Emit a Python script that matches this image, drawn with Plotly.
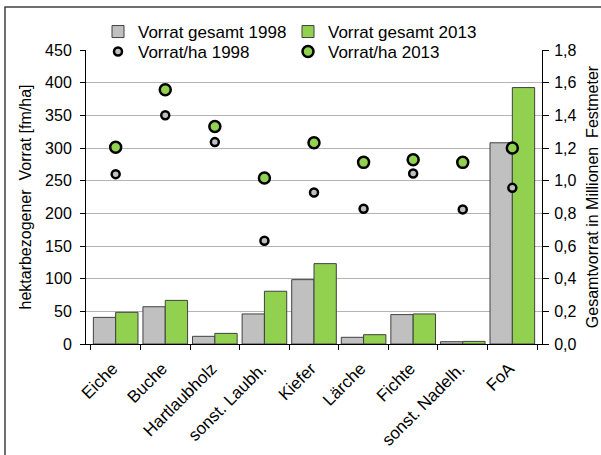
import plotly.graph_objects as go

# Baumarten / Kategorien
categories = ["Eiche", "Buche", "Hartlaubholz", "sonst. Laubh.", "Kiefer",
              "Lärche", "Fichte", "sonst. Nadelh.", "FoA"]

# Gesamtvorrat in Millionen Festmeter
vorrat_gesamt_1998 = [0.163, 0.228, 0.047, 0.184, 0.394, 0.041, 0.180, 0.014, 1.232]
vorrat_gesamt_2013 = [0.194, 0.267, 0.065, 0.323, 0.492, 0.057, 0.184, 0.016, 1.570]

# Hektarbezogener Vorrat [fm/ha]
vorrat_ha_1998 = [260, 350, 309, 158, 232, 207, 261, 206, 239]
vorrat_ha_2013 = [301, 389, 333, 254, 308, 278, 282, 278, 300]

left_ticks = [0, 50, 100, 150, 200, 250, 300, 350, 400, 450]
right_ticks = [0.0, 0.2, 0.4, 0.6, 0.8, 1.0, 1.2, 1.4, 1.6, 1.8]

GRAY = "#c0c0c0"
GREEN = "#92d050"
FONT = "Liberation Sans, Arial, sans-serif"

# plot area in pixels
W, H = 601, 455
L, R, T, B = 86, 542, 50, 344


def px_x(px):
    return (px - L) / (R - L)


def px_y(py):
    return (B - py) / (B - T)


fig = go.Figure()

fig.add_trace(go.Bar(
    x=categories, y=vorrat_gesamt_1998, name="Vorrat gesamt 1998",
    marker=dict(color=GRAY, line=dict(color="#404040", width=1)),
    yaxis="y", legend="legend",
))
fig.add_trace(go.Bar(
    x=categories, y=vorrat_gesamt_2013, name="Vorrat gesamt 2013",
    marker=dict(color=GREEN, line=dict(color="#404040", width=1)),
    yaxis="y", legend="legend2",
))
fig.add_trace(go.Scatter(
    x=categories, y=vorrat_ha_1998, name="Vorrat/ha 1998", mode="markers",
    marker=dict(color=GRAY, size=8, line=dict(color="black", width=2.5)),
    yaxis="y2", legend="legend3",
))
fig.add_trace(go.Scatter(
    x=categories, y=vorrat_ha_2013, name="Vorrat/ha 2013", mode="markers",
    marker=dict(color=GREEN, size=11, line=dict(color="black", width=2.5)),
    yaxis="y2", legend="legend4",
))

# one legend box per entry, laid out as a 2x2 grid above the plot
legend_common = dict(
    orientation="h", xanchor="left", yanchor="middle",
    bgcolor="rgba(0,0,0,0)", font=dict(family=FONT, size=17),
    itemclick=False,
)
col1, col2 = 98, 288
row1, row2 = 32, 52

fig.update_layout(
    width=W, height=H,
    margin=dict(l=L, r=W - R, t=T, b=H - B, pad=0, autoexpand=False),
    paper_bgcolor="white", plot_bgcolor="white",
    font=dict(family=FONT, size=16, color="black"),
    separators=",.",
    barmode="group", bargap=0.1, bargroupgap=0,
    showlegend=True,
    legend=dict(legend_common, x=px_x(col1), y=px_y(row1)),
    legend2=dict(legend_common, x=px_x(col2), y=px_y(row1)),
    legend3=dict(legend_common, x=px_x(col1), y=px_y(row2)),
    legend4=dict(legend_common, x=px_x(col2), y=px_y(row2)),
    xaxis=dict(
        type="category", showline=True, linecolor="black", linewidth=1,
        ticks="outside", tickson="boundaries", ticklen=5, tickcolor="black",
        tickangle=-45, tickfont=dict(size=17), showgrid=False,
        ticklabelshift=-3, ticklabelstandoff=7, automargin=False,
    ),
    yaxis=dict(
        side="right", range=[0, 1.8], tickvals=right_ticks, tickformat=".1f",
        showline=True, linecolor="black", linewidth=1,
        ticks="outside", ticklen=6, tickcolor="black",
        tickfont=dict(size=16), ticklabelstandoff=2,
        showgrid=False, zeroline=False, automargin=False,
        title=dict(text="Gesamtvorrat in Millionen  Festmeter", standoff=17,
                   font=dict(size=16)),
    ),
    yaxis2=dict(
        overlaying="y", side="left", range=[0, 450], tickvals=left_ticks,
        showline=True, linecolor="black", linewidth=1,
        ticks="outside", ticklen=5, tickcolor="black",
        tickfont=dict(size=16), ticklabelstandoff=5,
        showgrid=True, gridcolor="#b4b4b4", gridwidth=1, zeroline=False,
        automargin=False,
        title=dict(text="hektarbezogener  Vorrat [fm/ha]", standoff=9,
                   font=dict(size=16)),
    ),
    shapes=[
        # white strip behind the legend row that sits on the top gridline
        dict(type="rect", xref="paper", yref="paper",
             x0=px_x(108), x1=px_x(487), y0=px_y(58), y1=px_y(42),
             line=dict(width=0), fillcolor="white", layer="between"),
        # outer frame
        dict(type="rect", xref="paper", yref="paper",
             x0=px_x(5), x1=px_x(640), y0=px_y(500), y1=px_y(7),
             line=dict(color="#404040", width=1.5),
             fillcolor="rgba(0,0,0,0)", layer="above"),
    ],
)

fig.write_html("out.html")
